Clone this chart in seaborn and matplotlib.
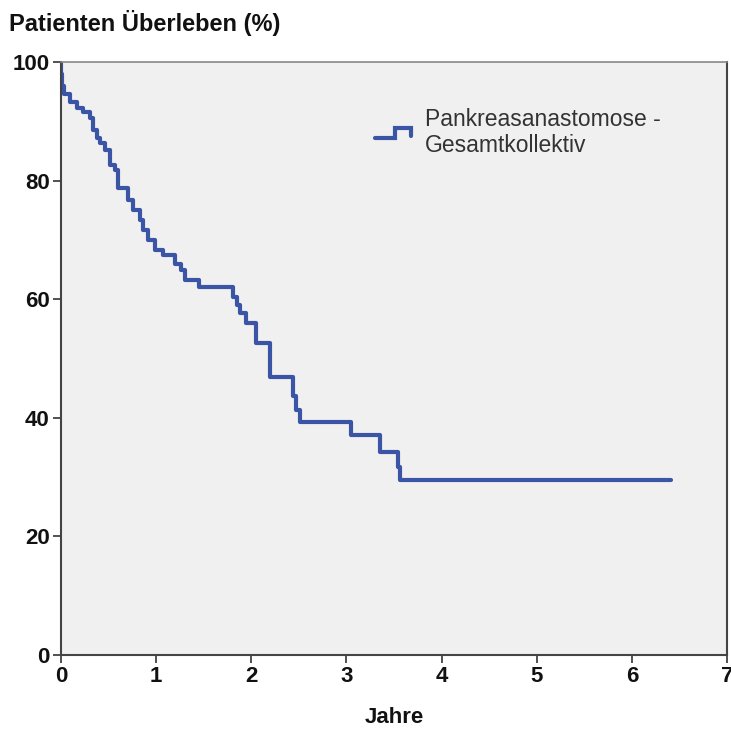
import numpy as np
import pandas as pd
import matplotlib
matplotlib.use('Agg')
import matplotlib.pyplot as plt
from matplotlib.legend_handler import HandlerBase
from matplotlib.lines import Line2D
import seaborn as sb

# Kaplan-Meier step values
years = [0.0, 0.005, 0.015, 0.03, 0.095, 0.165, 0.234, 0.305, 0.34, 0.375, 0.41,
         0.463, 0.515, 0.568, 0.603, 0.708, 0.757, 0.831, 0.862, 0.915, 0.988,
         1.07, 1.2, 1.26, 1.30, 1.45, 1.81, 1.85, 1.88, 1.94, 2.05, 2.20,
         2.44, 2.47, 2.51, 3.05, 3.35, 3.54, 3.56, 6.41]
survival = [100, 98, 96, 94.7, 93.3, 92.2, 91.6, 90.5, 88.5, 87.2, 86.3,
            85.2, 82.6, 81.8, 78.7, 76.7, 75.0, 73.4, 71.7, 70.0, 68.3,
            67.5, 66.0, 64.9, 63.2, 62.0, 60.4, 59.0, 57.7, 56.0, 52.6, 46.9,
            43.6, 41.3, 39.3, 37.1, 34.3, 31.7, 29.5, 29.5]
group = 'Pankreasanastomose -\nGesamtkollektiv'

x_ticks = [0, 1, 2, 3, 4, 5, 6, 7]
y_ticks = [0, 20, 40, 60, 80, 100]

df = pd.DataFrame({'Jahre': years, 'Survival': survival, 'Gruppe': group})

sb.set_style('ticks')
plt.rcParams['font.family'] = ['Liberation Sans', 'DejaVu Sans']

line_color = '#3a54a6'


class StepHandler(HandlerBase):
    def create_artists(self, legend, orig_handle, xdescent, ydescent,
                       width, height, fontsize, trans):
        xs = [0, 0.55 * width, 0.55 * width, width, width]
        ys = [0.2 * height, 0.2 * height, 0.85 * height, 0.85 * height, 0.35 * height]
        ln = Line2D(xs, ys, color=line_color, lw=3, solid_joinstyle='miter')
        ln.set_transform(trans)
        return [ln]


fig = plt.figure(figsize=(7.31, 7.31), dpi=100)
ax = fig.add_axes([0.0834, 0.104, 0.9111, 0.811])
ax.set_facecolor('#f0f0f0')

sb.lineplot(data=df, x='Jahre', y='Survival', hue='Gruppe', palette=[line_color],
            drawstyle='steps-post', linewidth=3, ax=ax, estimator=None, sort=False)

ax.set_xlim(0, 7)
ax.set_ylim(0, 100)
ax.set_xticks(x_ticks)
ax.set_yticks(y_ticks)
ax.tick_params(axis='both', direction='out', length=6, width=1.2, color='#333333',
               labelsize=16, pad=2)
for lbl in ax.get_xticklabels() + ax.get_yticklabels():
    lbl.set_fontweight('bold')
    lbl.set_color('#111111')

for side in ['left', 'bottom', 'right']:
    ax.spines[side].set_color('#444444')
    ax.spines[side].set_linewidth(1.5)
ax.spines['top'].set_color('#888888')
ax.spines['top'].set_linewidth(1.2)

ax.set_xlabel('Jahre', fontsize=16, fontweight='bold', labelpad=14, color='#111111')
ax.set_ylabel('')
fig.text(0.012, 0.968, 'Patienten Überleben (%)', fontsize=17, fontweight='bold',
         ha='left', va='center', color='#111111')

handles, labels = ax.get_legend_handles_labels()
ax.legend(handles, labels, handler_map={handles[0]: StepHandler()}, frameon=False,
          loc='upper left', bbox_to_anchor=(0.44, 0.958), fontsize=16.5,
          handlelength=1.6, handletextpad=0.6, labelcolor='#333333', labelspacing=0.1)

plt.savefig('out.png', dpi=100)
